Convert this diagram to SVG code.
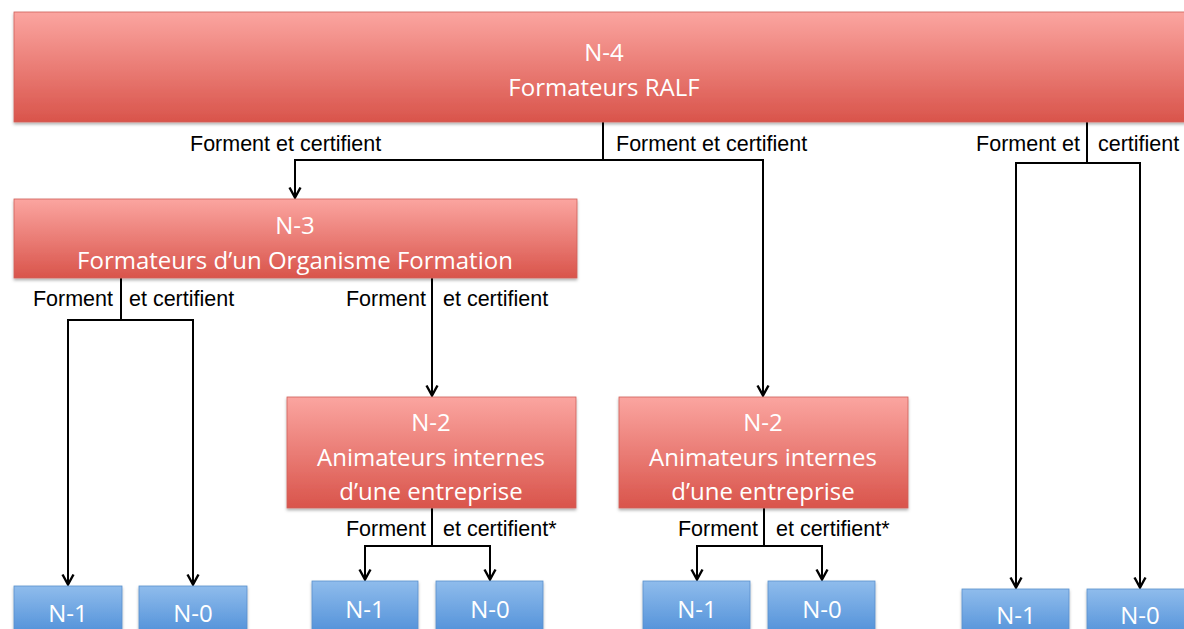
<svg xmlns="http://www.w3.org/2000/svg" width="1184" height="629" viewBox="0 0 1184 629">
<defs>
<linearGradient id="red" x1="0" y1="0" x2="0" y2="1">
<stop offset="0" stop-color="#fba5a0"/>
<stop offset="1" stop-color="#d9544b"/>
</linearGradient>
<linearGradient id="blue" x1="0" y1="0" x2="0" y2="1">
<stop offset="0" stop-color="#8fbcec"/>
<stop offset="1" stop-color="#4f8fd8"/>
</linearGradient>
<filter id="sh" x="-5%" y="-10%" width="110%" height="130%">
<feDropShadow dx="0" dy="2" stdDeviation="1.5" flood-color="#000" flood-opacity="0.3"/>
</filter>
<marker id="ah" viewBox="0 0 14 14" markerWidth="14" markerHeight="14" refX="12.5" refY="7" orient="auto" markerUnits="userSpaceOnUse">
<path d="M2,1.5 L12,7 L2,12.5" fill="none" stroke="#000" stroke-width="2.4"/>
</marker>
</defs>
<style>
.red{fill:url(#red);stroke:#d0605a;stroke-width:0.8;filter:url(#sh)}
.blue{fill:url(#blue);stroke:#5a90cc;stroke-width:0.8;filter:url(#sh)}
.nt{font-family:"Open Sans","Noto Sans",sans-serif;fill:#fff;text-anchor:middle;font-size:24px}
.lb{font-family:"Liberation Sans",Arial,sans-serif;fill:#000;font-size:21.5px}
.c{fill:none;stroke:#000;stroke-width:2}
.ca{fill:none;stroke:#000;stroke-width:2;marker-end:url(#ah)}
</style>
<rect width="1184" height="629" fill="#fff"/>
<g id="connectors">
<path class="c" d="M603,122 V160"/>
<path class="ca" d="M603,160 H295 V198"/>
<path class="ca" d="M603,160 H763 V396"/>
<path class="c" d="M1087,122 V163"/>
<path class="ca" d="M1087,163 H1016 V588"/>
<path class="ca" d="M1087,163 H1140 V588"/>
<path class="c" d="M121,278 V320"/>
<path class="ca" d="M121,320 H68 V585"/>
<path class="ca" d="M121,320 H193 V585"/>
<path class="ca" d="M432,278 V396"/>
<path class="c" d="M432,508 V546"/>
<path class="ca" d="M432,546 H365 V580"/>
<path class="ca" d="M432,546 H490 V580"/>
<path class="c" d="M764,508 V546"/>
<path class="ca" d="M764,546 H697 V580"/>
<path class="ca" d="M764,546 H822 V580"/>
</g>
<g id="labels">
<text class="lb" x="190" y="151">Forment et certifient</text>
<text class="lb" x="616" y="151">Forment et certifient</text>
<text class="lb" x="1080" y="151" text-anchor="end">Forment et</text>
<text class="lb" x="1098" y="151">certifient</text>
<text class="lb" x="113" y="306" text-anchor="end">Forment</text>
<text class="lb" x="129" y="306">et certifient</text>
<text class="lb" x="426" y="306" text-anchor="end">Forment</text>
<text class="lb" x="443" y="306">et certifient</text>
<text class="lb" x="426" y="536" text-anchor="end">Forment</text>
<text class="lb" x="443" y="536">et certifient*</text>
<text class="lb" x="758" y="536" text-anchor="end">Forment</text>
<text class="lb" x="776" y="536">et certifient*</text>
</g>
<g id="n4">
<rect class="red" x="14" y="12" width="1180" height="110"/>
<text class="nt" x="604" y="61">N-4</text>
<text class="nt" x="604" y="96">Formateurs RALF</text>
</g>
<g id="n3">
<rect class="red" x="14" y="199" width="563" height="79"/>
<text class="nt" x="295" y="234">N-3</text>
<text class="nt" x="295" y="269">Formateurs d’un Organisme Formation</text>
</g>
<g id="n2a">
<rect class="red" x="287" y="397" width="289" height="111"/>
<text class="nt" x="431" y="431">N-2</text>
<text class="nt" x="431" y="466">Animateurs internes</text>
<text class="nt" x="431" y="500">d’une entreprise</text>
</g>
<g id="n2b">
<rect class="red" x="619" y="397" width="289" height="111"/>
<text class="nt" x="763" y="431">N-2</text>
<text class="nt" x="763" y="466">Animateurs internes</text>
<text class="nt" x="763" y="500">d’une entreprise</text>
</g>
<g id="n1a"><rect class="blue" x="14" y="586" width="108" height="50"/><text class="nt" x="68" y="622">N-1</text></g>
<g id="n0a"><rect class="blue" x="139" y="586" width="108" height="50"/><text class="nt" x="193" y="622">N-0</text></g>
<g id="n1b"><rect class="blue" x="312" y="581" width="106" height="55"/><text class="nt" x="365" y="618">N-1</text></g>
<g id="n0b"><rect class="blue" x="436" y="581" width="107" height="55"/><text class="nt" x="490" y="618">N-0</text></g>
<g id="n1c"><rect class="blue" x="643" y="581" width="107" height="55"/><text class="nt" x="697" y="618">N-1</text></g>
<g id="n0c"><rect class="blue" x="768" y="581" width="107" height="55"/><text class="nt" x="822" y="618">N-0</text></g>
<g id="n1d"><rect class="blue" x="962" y="589" width="107" height="50"/><text class="nt" x="1016" y="624">N-1</text></g>
<g id="n0d"><rect class="blue" x="1087" y="589" width="107" height="50"/><text class="nt" x="1140" y="624">N-0</text></g>
</svg>
